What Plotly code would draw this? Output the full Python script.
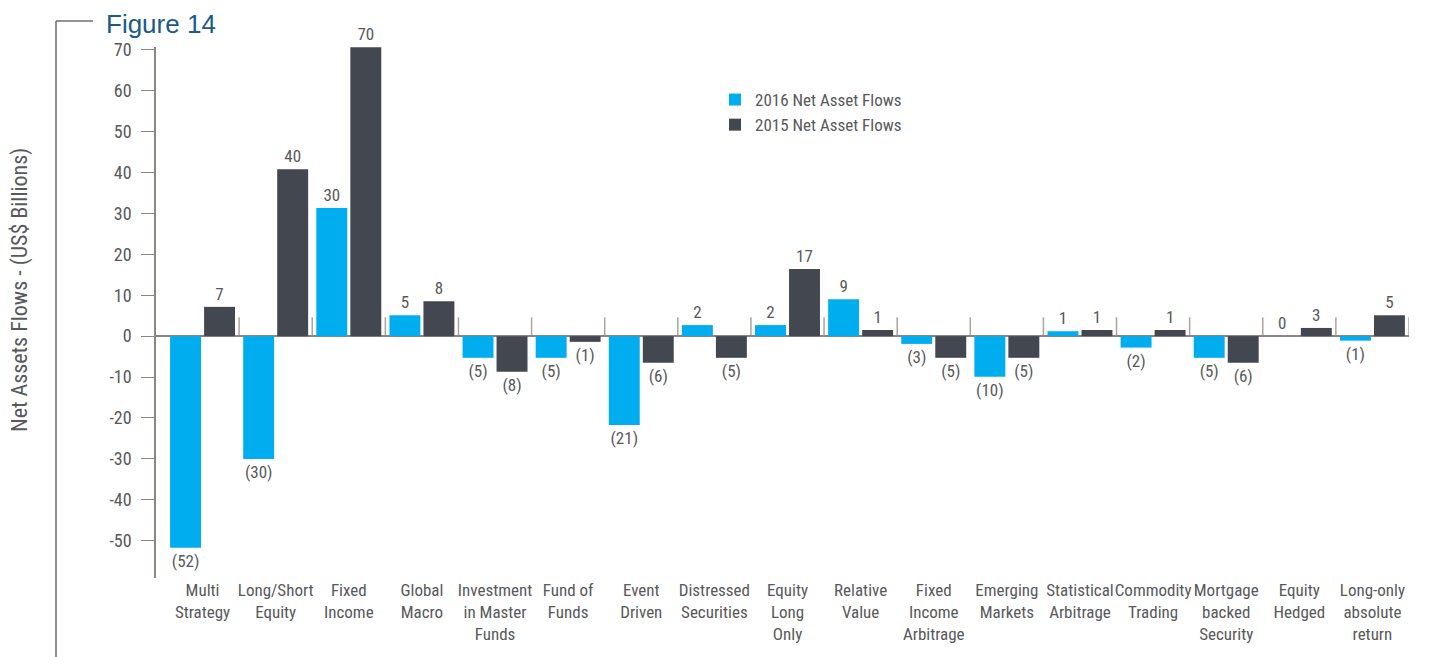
import plotly.graph_objects as go

categories = [
    "Multi<br>Strategy", "Long/Short<br>Equity", "Fixed<br>Income", "Global<br>Macro",
    "Investment<br>in Master<br>Funds", "Fund of<br>Funds", "Event<br>Driven",
    "Distressed<br>Securities", "Equity<br>Long<br>Only", "Relative<br>Value",
    "Fixed<br>Income<br>Arbitrage", "Emerging<br>Markets", "Statistical<br>Arbitrage",
    "Commodity<br>Trading", "Mortgage<br>backed<br>Security", "Equity<br>Hedged",
    "Long-only<br>absolute<br>return",
]
flows_2016 = [-51.7, -30.0, 31.3, 5.1, -5.3, -5.3, -21.7, 2.7, 2.7, 9.0, -1.9, -9.9, 1.2, -2.8, -5.3, 0.0, -1.1]
flows_2015 = [7.15, 40.8, 70.6, 8.5, -8.7, -1.4, -6.5, -5.3, 16.4, 1.5, -5.3, -5.3, 1.5, 1.5, -6.5, 2.0, 5.1]
labels_2016 = ["(52)", "(30)", "30", "5", "(5)", "(5)", "(21)", "2", "2", "9", "(3)", "(10)", "1", "(2)", "(5)", "0", "(1)"]
labels_2015 = ["7", "40", "70", "8", "(8)", "(1)", "(6)", "(5)", "17", "1", "(5)", "(5)", "1", "1", "(6)", "3", "5"]
y_ticks = [-50, -40, -30, -20, -10, 0, 10, 20, 30, 40, 50, 60, 70]
y_ticktext = ["-50", "-40", "-30", "-20", "-10", "0", "10", "20", "30", "40", "50", "60", "70"]
y_title = "Net Assets Flows - (US$ Billions)"
fig_title = "Figure 14"

W, H = 1448, 657
OFF = 8  # page body margin: screen = figure + OFF
# target screen positions of the plot area
S_LEFT, S_RIGHT, S_TOP, S_BOTTOM = 156, 1409, 47, 578
ML, MT = S_LEFT - OFF, S_TOP - OFF
MR, MB = W - (S_RIGHT - OFF), H - (S_BOTTOM - OFF)
PW, PH = W - ML - MR, H - MT - MB

def px_x(p):
    return (p - S_LEFT) / PW

def px_y(p):
    return (S_BOTTOM - p) / PH

FONT = "Liberation Sans Narrow, Roboto Condensed, Arial Narrow, sans-serif"
GRAY = "#58595B"
AXIS = "#8C8680"
BLUE = "#00AEEF"
DARK = "#434750"

idx = list(range(len(categories)))

fig = go.Figure()
fig.add_trace(go.Bar(
    x=idx, y=flows_2016, name="2016 Net Asset Flows", marker=dict(color=BLUE, line=dict(width=0)),
    text=labels_2016, textposition="outside", constraintext="none", cliponaxis=False,
    textfont=dict(family=FONT, size=17, color=GRAY),
))
fig.add_trace(go.Bar(
    x=idx, y=flows_2015, name="2015 Net Asset Flows", marker=dict(color=DARK, line=dict(width=0)),
    text=labels_2015, textposition="outside", constraintext="none", cliponaxis=False,
    textfont=dict(family=FONT, size=17, color=GRAY),
))

shapes = []
for i in idx:
    shapes.append(dict(type="line", xref="x", yref="y", x0=i + 0.5, x1=i + 0.5, y0=0, y1=4.6,
                       line=dict(color="#AAA5A0", width=1.5), layer="below"))
# outer bracket
shapes.append(dict(type="line", xref="paper", yref="paper", x0=px_x(56), x1=px_x(56),
                   y0=px_y(21), y1=px_y(670), line=dict(color="#6E6E6E", width=1.5)))
shapes.append(dict(type="line", xref="paper", yref="paper", x0=px_x(56), x1=px_x(93),
                   y0=px_y(21), y1=px_y(21), line=dict(color="#6E6E6E", width=1.5)))

annotations = [
    dict(text=y_title, textangle=-90, xref="paper", yref="paper", x=px_x(20), y=px_y(290),
         xanchor="center", yanchor="middle", showarrow=False,
         font=dict(family=FONT, size=22, color=GRAY)),
]

fig.update_layout(
    width=W, height=H,
    margin=dict(l=ML, r=MR, t=MT, b=MB, autoexpand=False),
    paper_bgcolor="white", plot_bgcolor="white",
    barmode="group", bargap=0.07, bargroupgap=0.09,
    title=dict(text=fig_title, x=(106 - OFF) / W, xanchor="left", y=1 - 16 / H, yanchor="middle",
               font=dict(family="Liberation Sans, Arial, sans-serif", size=26, color="#1B5A8A")),
    showlegend=True,
    legend=dict(x=px_x(715), y=px_y(82), xanchor="left", yanchor="top",
                font=dict(family=FONT, size=17, color=GRAY), bgcolor="rgba(0,0,0,0)"),
    shapes=shapes,
    annotations=annotations,
    xaxis=dict(
        range=[-0.5 - 10 / 73.1, len(categories) - 0.5], automargin=False, tickangle=0,
        tickvals=idx, ticktext=categories, showline=False, showgrid=False, zeroline=False,
        ticks="", tickfont=dict(family=FONT, size=17, color=GRAY),
    ),
    yaxis=dict(
        range=[-59.1, 70.65], tickvals=y_ticks, ticktext=y_ticktext, automargin=False,
        showline=True, linecolor=AXIS, linewidth=1.5, ticks="outside", ticklen=13,
        tickcolor=AXIS, tickwidth=1.3, ticklabelstandoff=6, showgrid=False,
        zeroline=True, zerolinecolor=AXIS, zerolinewidth=1.5,
        tickfont=dict(family=FONT, size=18, color=GRAY),
    ),
)

fig.write_html("out.html")
